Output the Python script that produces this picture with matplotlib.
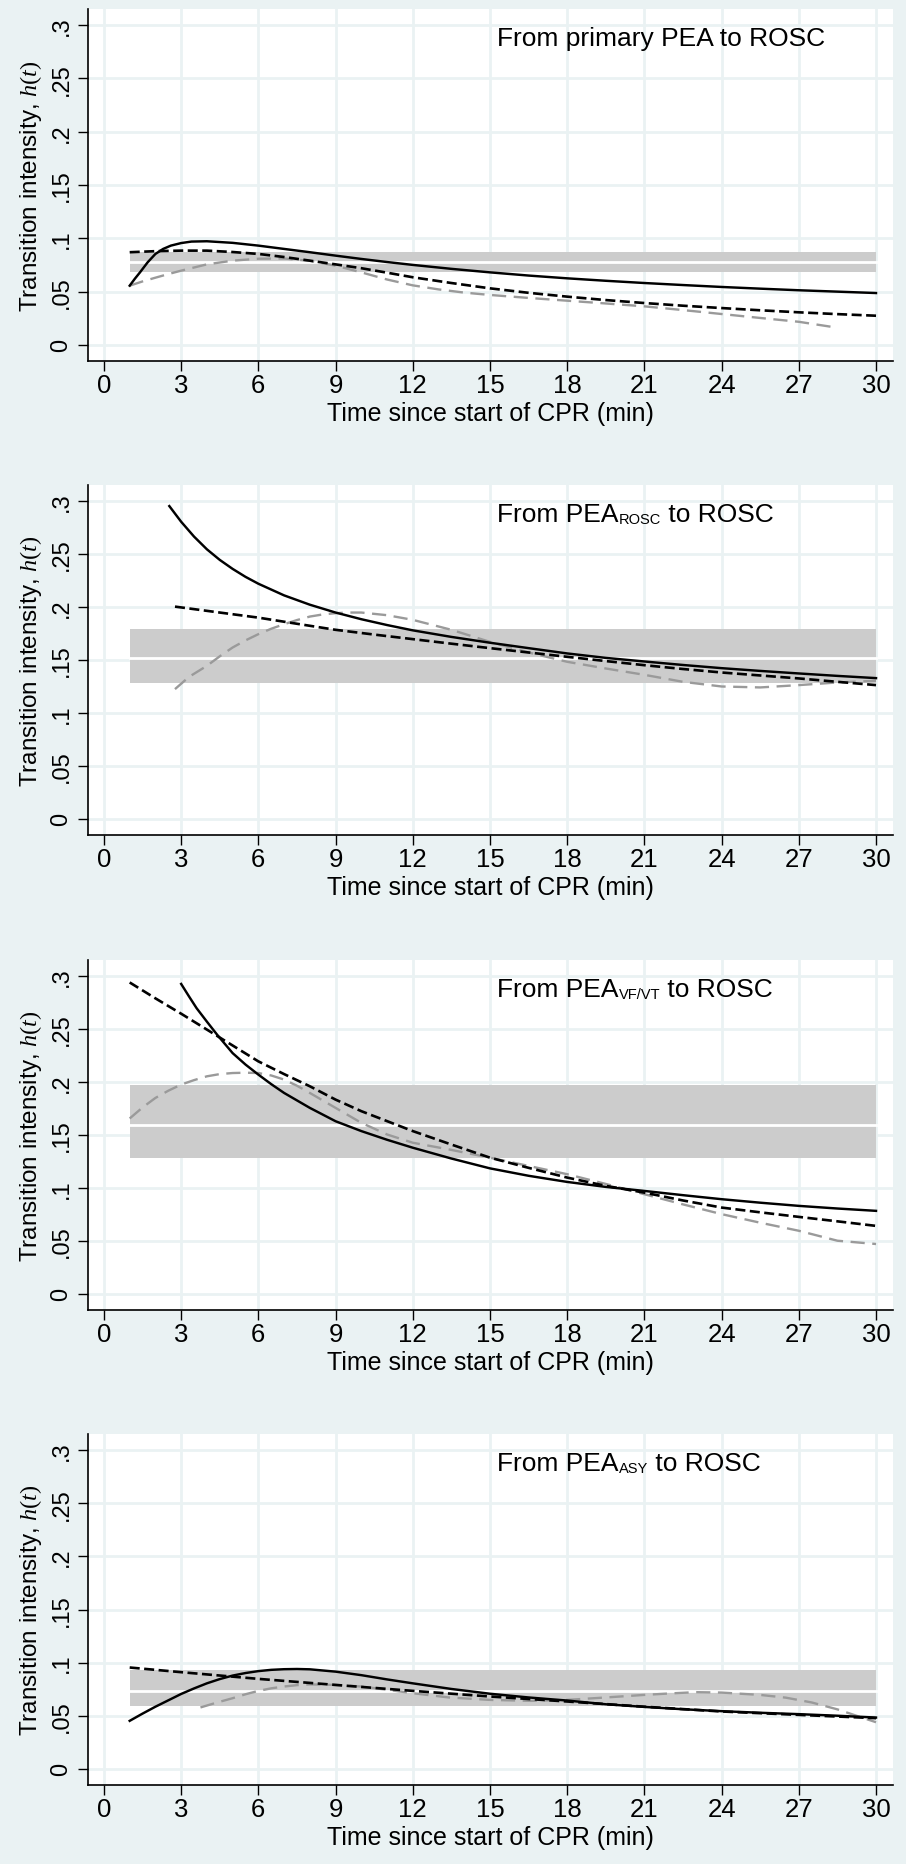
import numpy as np
import matplotlib
matplotlib.use("Agg")
import matplotlib.pyplot as plt

plt.rcParams['font.family'] = ['Liberation Sans', 'DejaVu Sans']
plt.rcParams['mathtext.fontset'] = 'custom'
plt.rcParams['mathtext.it'] = 'Liberation Serif:italic'
plt.rcParams['mathtext.rm'] = 'Liberation Serif'

BG = '#eaf2f3'
BAND = '#cccccc'
GRAY = '#9a9a9a'

x_ticks = [0, 3, 6, 9, 12, 15, 18, 21, 24, 27, 30]
y_ticks = [0, 0.05, 0.1, 0.15, 0.2, 0.25, 0.3]
y_ticklabels = ['0', '.05', '.1', '.15', '.2', '.25', '.3']

# ---- panel 1: primary PEA
p1_solid_x = [1, 1.2, 1.4, 1.7, 2, 2.3, 2.6, 3, 3.4, 4, 5, 6, 7, 8, 9, 10, 11, 12,
              13.5, 15, 16.5, 18, 19.5, 21, 22.5, 24, 25.5, 27, 28.5, 30]
p1_solid_y = [0.0555, 0.062, 0.068, 0.0775, 0.0853, 0.09, 0.0931, 0.0955, 0.0969,
              0.0972, 0.0957, 0.0931, 0.09, 0.0869, 0.0837, 0.0806, 0.0777, 0.075,
              0.0713, 0.068, 0.065, 0.0624, 0.0601, 0.058, 0.0561, 0.0543, 0.0527,
              0.0512, 0.0499, 0.0486]
p1_dash_x = [1, 2, 3, 4, 5, 6, 7, 8, 9, 10, 11, 12, 13.5, 15, 16.5, 18, 19.5, 21,
             22.5, 24, 25.5, 27, 28.5, 30]
p1_dash_y = [0.0869, 0.0879, 0.0884, 0.0884, 0.0871, 0.0853, 0.0824, 0.079, 0.0755,
             0.0719, 0.0677, 0.0634, 0.058, 0.053, 0.0488, 0.0452, 0.042, 0.0392,
             0.0367, 0.0345, 0.0324, 0.0305, 0.0288, 0.0273]
p1_gray_x = [1, 1.5, 2, 2.5, 3, 4, 5, 6, 7, 8, 9, 10, 11, 12, 13, 14, 15, 16.5, 18,
             19.5, 21, 22.5, 24, 25.5, 27, 28.4]
p1_gray_y = [0.0555, 0.0595, 0.063, 0.0664, 0.0696, 0.0755, 0.079, 0.0808, 0.081,
             0.0788, 0.0743, 0.068, 0.0613, 0.0558, 0.052, 0.049, 0.0468, 0.044,
             0.0414, 0.0388, 0.0361, 0.0326, 0.0289, 0.0252, 0.0216, 0.0164]
p1_band = (0.0681, 0.0775, 0.0869)

# ---- panel 2: PEA ROSC
p2_solid_x = [2.54, 3, 3.5, 4, 4.5, 5, 5.5, 6, 7, 8, 9, 10, 11, 12, 13.5, 15, 16.5,
              18, 19.5, 21, 22.5, 24, 25.5, 27, 28.5, 30]
p2_solid_y = [0.2953, 0.2805, 0.2665, 0.2545, 0.2445, 0.236, 0.2285, 0.222, 0.211,
              0.2022, 0.1948, 0.1885, 0.183, 0.178, 0.1718, 0.1663, 0.1612, 0.1562,
              0.152, 0.1486, 0.1453, 0.1423, 0.1397, 0.1373, 0.135, 0.1329]
p2_dash_x = [2.76, 4.5, 6, 7.5, 9, 10.5, 12, 13.5, 15, 16.5, 18, 19.5, 21, 22.5, 24,
             25.5, 27, 28.5, 30]
p2_dash_y = [0.2004, 0.1948, 0.19, 0.1842, 0.1785, 0.174, 0.1697, 0.1654, 0.1612,
             0.1571, 0.153, 0.149, 0.1451, 0.1415, 0.1382, 0.1354, 0.1326, 0.1294,
             0.1263]
p2_gray_x = [2.76, 3.3, 4, 4.5, 5, 5.5, 6, 6.5, 7, 7.5, 8, 8.5, 9, 9.5, 10, 11, 12,
             13.5, 15, 16.5, 18, 19.5, 21, 22.5, 24, 25.5, 27, 28.5, 30]
p2_gray_y = [0.1225, 0.134, 0.1445, 0.1535, 0.1618, 0.1685, 0.1744, 0.1795, 0.1838,
             0.1877, 0.191, 0.193, 0.1942, 0.1948, 0.1948, 0.1923, 0.1879, 0.1785,
             0.1671, 0.1571, 0.1483, 0.142, 0.136, 0.1294, 0.125, 0.1241, 0.1263,
             0.1288, 0.1304]
p2_band = (0.1279, 0.152, 0.1797)

# ---- panel 3: PEA VF/VT
p3_solid_x = [3, 3.3, 3.6, 4, 4.4, 5, 5.5, 6, 6.5, 7, 8, 9, 10, 11, 12, 13.5, 15,
              16.5, 18, 19.5, 21, 22.5, 24, 25.5, 27, 28.5, 30]
p3_solid_y = [0.2926, 0.281, 0.2697, 0.257, 0.2446, 0.2273, 0.2165, 0.207, 0.198,
              0.1897, 0.1756, 0.163, 0.1537, 0.1455, 0.138, 0.1278, 0.1185, 0.1115,
              0.1057, 0.101, 0.0972, 0.0932, 0.0894, 0.0861, 0.0831, 0.0806, 0.0784]
p3_dash_x = [1, 2, 3, 4, 5, 6, 7, 8, 9, 10, 12, 13.5, 15, 16.5, 18, 19.5, 21, 22.5,
             24, 25.5, 27, 28.5, 30]
p3_dash_y = [0.294, 0.279, 0.2645, 0.2495, 0.2345, 0.2195, 0.2075, 0.196, 0.1834,
             0.1725, 0.1537, 0.141, 0.1286, 0.119, 0.1098, 0.102, 0.0956, 0.0882,
             0.0815, 0.077, 0.0727, 0.0685, 0.0642]
p3_gray_x = [1, 1.5, 2, 2.5, 3, 3.5, 4, 4.5, 5, 5.5, 6, 6.5, 7, 7.5, 8, 9, 10, 11, 12,
             13.4, 15, 16.5, 18, 19.5, 21, 22.5, 24, 25.5, 27, 28.5, 30]
p3_gray_y = [0.1656, 0.176, 0.185, 0.1918, 0.1976, 0.2018, 0.2054, 0.2075, 0.2085,
             0.2088, 0.2085, 0.2062, 0.2023, 0.1965, 0.1897, 0.1756, 0.1615, 0.1505,
             0.1427, 0.1364, 0.1286, 0.1208, 0.113, 0.1038, 0.0941, 0.0845, 0.0753,
             0.0672, 0.0596, 0.0502, 0.0471]
p3_band = (0.1285, 0.1591, 0.1976)

# ---- panel 4: PEA ASY
p4_solid_x = [1, 1.5, 2, 2.5, 3, 3.5, 4, 4.5, 5, 5.5, 6, 6.5, 7, 7.5, 8, 9, 10, 11,
              12, 13.5, 15, 16.5, 18, 19.5, 21, 22.5, 24, 25.5, 27, 28.5, 30]
p4_solid_y = [0.0452, 0.052, 0.0585, 0.0645, 0.0705, 0.0757, 0.0805, 0.0845, 0.0878,
              0.0902, 0.092, 0.0932, 0.0938, 0.094, 0.0937, 0.0915, 0.0882, 0.0842,
              0.0805, 0.0752, 0.0707, 0.0672, 0.0643, 0.0608, 0.0583, 0.0561, 0.0543,
              0.0528, 0.0515, 0.05, 0.0483]
p4_dash_x = [1, 3, 6, 9, 12, 15, 18, 21, 24, 27, 30]
p4_dash_y = [0.0954, 0.091, 0.0847, 0.079, 0.0734, 0.0681, 0.0634, 0.0585, 0.054,
             0.0508, 0.0477]
p4_gray_x = [3.75, 4.4, 5, 5.5, 6, 6.5, 7, 7.5, 8, 9, 10, 11, 12, 13.4, 15, 16.6, 18,
             19.5, 21, 22, 23, 24, 25.5, 26.5, 27.5, 28.5, 29.3, 30]
p4_gray_y = [0.0578, 0.0625, 0.0665, 0.0702, 0.0734, 0.0758, 0.0775, 0.0788, 0.0795,
             0.079, 0.0775, 0.0745, 0.0712, 0.0672, 0.0649, 0.064, 0.0649, 0.0672,
             0.0696, 0.071, 0.0722, 0.0718, 0.0696, 0.067, 0.0625, 0.056, 0.0495,
             0.0439]
p4_band = (0.0587, 0.0737, 0.0926)

panels = [
    ((p1_solid_x, p1_solid_y), (p1_dash_x, p1_dash_y), (p1_gray_x, p1_gray_y), p1_band, None),
    ((p2_solid_x, p2_solid_y), (p2_dash_x, p2_dash_y), (p2_gray_x, p2_gray_y), p2_band, 'ROSC'),
    ((p3_solid_x, p3_solid_y), (p3_dash_x, p3_dash_y), (p3_gray_x, p3_gray_y), p3_band, 'VF/VT'),
    ((p4_solid_x, p4_solid_y), (p4_dash_x, p4_dash_y), (p4_gray_x, p4_gray_y), p4_band, 'ASY'),
]

W, H = 906, 1865
fig = plt.figure(figsize=(W / 100, H / 100), dpi=100, facecolor=BG)

# axes boxes in pixels (top, bottom)
boxes = [(10, 362), (486, 836), (961, 1311), (1435, 1786)]
left_px, right_px = 88, 893

for (solid, dash, gray, band, sub), (top, bot) in zip(panels, boxes):
    ax = fig.add_axes([left_px / W, 1 - bot / H, (right_px - left_px) / W, (bot - top) / H])
    ax.set_facecolor('white')
    ax.set_xlim(-0.62, 30.66)
    ax.set_ylim(-0.0152, 0.3152)

    for xt in x_ticks:
        ax.axvline(xt, color=BG, lw=2, zorder=0)
    for yt in y_ticks:
        ax.axhline(yt, color=BG, lw=2, zorder=0)

    lo, mid, hi = band
    ax.fill_between([1, 30], [lo, lo], [hi, hi], color=BAND, lw=0, zorder=1)
    ax.plot([1, 30], [mid, mid], color='white', lw=2, zorder=1.5)

    ax.plot(gray[0], gray[1], color=GRAY, lw=1.7, dashes=(6, 3.2), zorder=2)
    ax.plot(dash[0], dash[1], color='black', lw=1.9, dashes=(3.8, 1.7), zorder=3)
    ax.plot(solid[0], solid[1], color='black', lw=1.75, zorder=4,
            solid_joinstyle='round')

    for s in ['top', 'right']:
        ax.spines[s].set_visible(False)
    for s in ['left', 'bottom']:
        ax.spines[s].set_linewidth(1.2)

    ax.set_xticks(x_ticks)
    ax.set_xticklabels([str(v) for v in x_ticks], fontsize=18.5)
    ax.set_yticks(y_ticks)
    ax.set_yticklabels(y_ticklabels, fontsize=17, rotation=90, va='center')
    ax.tick_params(axis='x', direction='out', length=7.2, width=1, pad=1.5)
    ax.tick_params(axis='y', direction='out', length=7.2, width=1, pad=4)

    ax.set_xlabel('Time since start of CPR (min)', fontsize=18, labelpad=3)
    ax.set_ylabel('Transition intensity, $\\mathit{h(t)}$', fontsize=17.5)
    ax.yaxis.set_label_coords(-0.055, 0.5)

    if sub is None:
        ax.text(15.27, 0.281, 'From primary PEA to ROSC', fontsize=19, va='baseline')
    else:
        t1 = ax.text(15.27, 0.281, 'From PEA', fontsize=19, va='baseline')
        t2 = ax.annotate(sub, xy=(1, 0), xycoords=t1, va='bottom', fontsize=10.5,
                         xytext=(0.3, 0), textcoords='offset points')
        ax.annotate(' to ROSC', xy=(1, 0), xycoords=(t2, t1), va='bottom', fontsize=19)

fig.savefig('out.png', dpi=100, facecolor=BG)
